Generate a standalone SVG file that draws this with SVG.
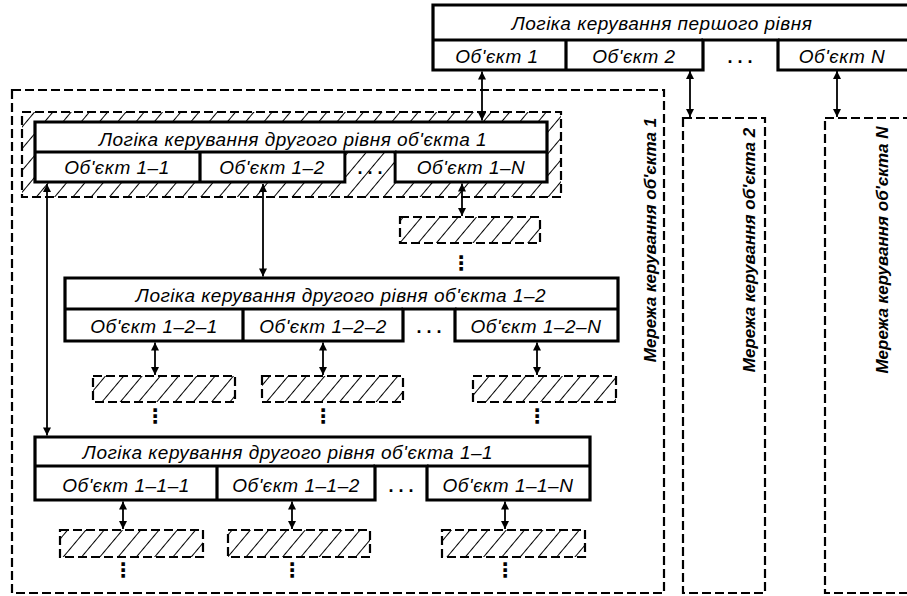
<svg xmlns="http://www.w3.org/2000/svg" width="907" height="596" viewBox="0 0 907 596">
<style>
.t{font-family:"Liberation Sans",Arial,sans-serif;font-style:italic;font-size:19px;letter-spacing:0.5px;fill:#000;text-anchor:middle}
.r{font-family:"Liberation Sans",Arial,sans-serif;font-style:italic;font-weight:bold;font-size:17px;fill:#000;text-anchor:middle}
.dots{font-family:"Liberation Sans",Arial,sans-serif;font-weight:bold;font-size:18px;fill:#000;text-anchor:middle}
.vd{font-family:"DejaVu Sans",sans-serif;font-weight:bold;font-size:20px;fill:#000;text-anchor:middle}
.box{fill:#fff;stroke:#000;stroke-width:3.2;stroke-linejoin:miter}
.ln{fill:none;stroke:#000;stroke-width:3.2}
.dash{fill:none;stroke:#000;stroke-width:2.2;stroke-dasharray:9 4}
.hb{fill:url(#hatch);stroke:#000;stroke-width:2.2;stroke-dasharray:9 4}
.hc{fill:url(#hatch);stroke:none}
.con{fill:none;stroke:#000;stroke-width:1.8;marker-start:url(#ah);marker-end:url(#ah)}
</style>
<defs>
<pattern id="hatch" patternUnits="userSpaceOnUse" width="14" height="14" patternTransform="rotate(40)">
<rect width="14" height="14" fill="#fff"/>
<line x1="0" y1="0" x2="0" y2="14" stroke="#000" stroke-width="2"/>
</pattern>
<marker id="ah" viewBox="0 0 10 10" refX="10" refY="5" markerWidth="9" markerHeight="8" markerUnits="userSpaceOnUse" orient="auto-start-reverse">
<path d="M0,0 L10,5 L0,10 Z" fill="#000"/>
</marker>
</defs>
<rect width="907" height="596" fill="#fff"/>

<g id="net1">
<rect class="dash" x="12" y="90" width="652" height="503"/>
<text class="r" transform="translate(656,240) rotate(-90)">Мережа керування об'єкта 1</text>
</g>
<g id="net2">
<rect class="dash" x="683" y="118" width="82" height="475"/>
<text class="r" transform="translate(755,250) rotate(-90)">Мережа керування об'єкта 2</text>
</g>
<g id="netN">
<rect class="dash" x="825" y="118" width="90" height="475"/>
<text class="r" transform="translate(888,250) rotate(-90)">Мережа керування об'єкта N</text>
</g>

<g id="top">
<path class="box" d="M433,5 H912 V70 H778 V40 H703 V70 H433 Z"/>
<path class="ln" d="M433,40 H703 M778,40 H912 M566,40 V70"/>
<text class="t" x="662" y="30">Логіка керування першого рівня</text>
<text class="t" x="497" y="63">Об'єкт 1</text>
<text class="t" x="634" y="63">Об'єкт 2</text>
<text class="dots" x="740" y="63">. . .</text>
<text class="t" x="842" y="63">Об'єкт N</text>
</g>

<g id="block1">
<rect class="hb" x="22" y="112" width="539" height="85"/>
<path class="box" d="M35,122 H547 V182 H395 V152 H345 V182 H35 Z"/>
<rect class="hc" x="346.6" y="153.6" width="46.8" height="30"/>
<path class="ln" d="M35,152 H345 M395,152 H547 M200,152 V182"/>
<text class="t" x="293" y="146">Логіка керування другого рівня об'єкта 1</text>
<text class="t" x="117" y="174">Об'єкт 1–1</text>
<text class="t" x="272" y="174">Об'єкт 1–2</text>
<text class="dots" x="370" y="174">. . .</text>
<text class="t" x="471" y="174">Об'єкт 1–N</text>
</g>
<g id="b1n">
<rect class="hb" x="400" y="217" width="140" height="26"/>
<text class="vd" x="461" y="270">⋮</text>
</g>

<g id="block12">
<path class="box" d="M65,278 H618 V341 H455 V309 H403 V341 H65 Z"/>
<path class="ln" d="M65,309 H403 M455,309 H618 M243,309 V341"/>
<text class="t" x="341" y="302">Логіка керування другого рівня об'єкта 1–2</text>
<text class="t" x="154" y="333">Об'єкт 1–2–1</text>
<text class="t" x="323" y="333">Об'єкт 1–2–2</text>
<text class="dots" x="429" y="333">. . .</text>
<text class="t" x="536" y="333">Об'єкт 1–2–N</text>
</g>
<g id="b121"><rect class="hb" x="93" y="376" width="142" height="26"/><text class="vd" x="155" y="423">⋮</text></g>
<g id="b122"><rect class="hb" x="262" y="376" width="141" height="26"/><text class="vd" x="323" y="423">⋮</text></g>
<g id="b12n"><rect class="hb" x="473" y="376" width="143" height="26"/><text class="vd" x="537" y="423">⋮</text></g>

<g id="block11">
<path class="box" d="M35,437 H590 V500 H427 V466 H375 V500 H35 Z"/>
<path class="ln" d="M35,466 H375 M427,466 H590 M217,466 V500"/>
<text class="t" x="288" y="459">Логіка керування другого рівня об'єкта 1–1</text>
<text class="t" x="126" y="492">Об'єкт 1–1–1</text>
<text class="t" x="296" y="492">Об'єкт 1–1–2</text>
<text class="dots" x="401" y="492">. . .</text>
<text class="t" x="508" y="492">Об'єкт 1–1–N</text>
</g>
<g id="b111"><rect class="hb" x="60" y="530" width="143" height="27"/><text class="vd" x="123" y="577">⋮</text></g>
<g id="b112"><rect class="hb" x="228" y="530" width="142" height="27"/><text class="vd" x="292" y="577">⋮</text></g>
<g id="b11n"><rect class="hb" x="442" y="530" width="143" height="27"/><text class="vd" x="505" y="577">⋮</text></g>

<g id="connectors">
<line class="con" x1="482" y1="71.5" x2="482" y2="120.5"/>
<line class="con" x1="690" y1="71" x2="690" y2="117"/>
<line class="con" x1="837" y1="71" x2="837" y2="117"/>
<line class="con" x1="462" y1="183.5" x2="462" y2="216"/>
<line class="con" x1="47" y1="184" x2="47" y2="435.5"/>
<line class="con" x1="263" y1="184" x2="263" y2="276.5"/>
<line class="con" x1="155" y1="342.5" x2="155" y2="375"/>
<line class="con" x1="323" y1="342.5" x2="323" y2="375"/>
<line class="con" x1="537" y1="342.5" x2="537" y2="375"/>
<line class="con" x1="123" y1="501.5" x2="123" y2="529"/>
<line class="con" x1="292" y1="501.5" x2="292" y2="529"/>
<line class="con" x1="505" y1="501.5" x2="505" y2="529"/>
</g>
</svg>
